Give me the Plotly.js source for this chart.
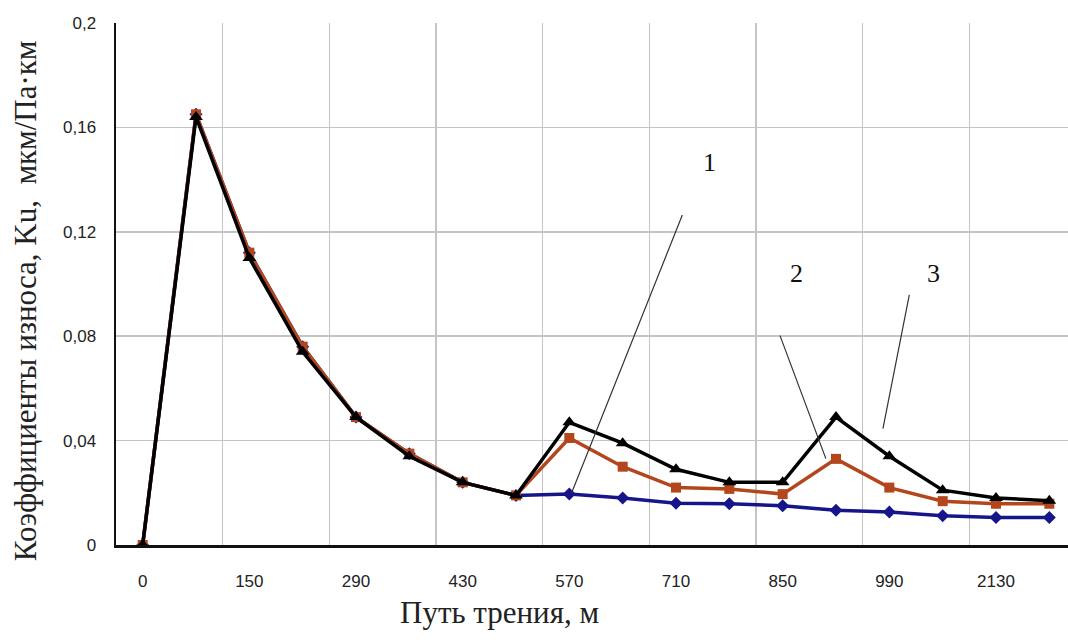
<!DOCTYPE html>
<html>
<head>
<meta charset="utf-8">
<script src="https://cdn.plot.ly/plotly-3.0.1.min.js"></script>
<style>html,body{margin:0;padding:0;background:#fff;overflow:hidden}</style>
</head>
<body>
<div id="chart" style="width:1068px;height:640px"></div>
<script>
// reading number along the friction path (18 readings, every other one labelled)
const pointNo = [0,1,2,3,4,5,6,7,8,9,10,11,12,13,14,15,16,17];
const tickLabels = ['0','150','290','430','570','710','850','990','2130'];

// series 1 (blue), 2 (red), 3 (black)
const series1 = [0,0.165,0.112,0.076,0.049,0.035,0.024,0.019,0.0195,0.018,0.016,0.0158,0.015,0.0133,0.0126,0.0112,0.0105,0.0105];
const series2 = [0,0.165,0.112,0.076,0.049,0.035,0.024,0.019,0.041,0.030,0.022,0.0215,0.0195,0.033,0.022,0.0168,0.0158,0.0158];
const series3 = [0,0.164,0.110,0.074,0.049,0.034,0.024,0.019,0.047,0.039,0.029,0.024,0.024,0.049,0.034,0.021,0.018,0.017];

const xTitle = 'Путь трения, м';
const yTitle = 'Коэффициенты износа, Ku,  мкм/Па·км';

const traces = [
  {x: pointNo, y: series1, mode: 'lines+markers', name: '1',
   line: {color: '#16168a', width: 3.5}, marker: {symbol: 'diamond', size: 10, color: '#16168a'}},
  {x: pointNo, y: series2, mode: 'lines+markers', name: '2',
   line: {color: '#b4461e', width: 3.5}, marker: {symbol: 'square', size: 10, color: '#b4461e'}},
  {x: pointNo, y: series3, mode: 'lines+markers', name: '3',
   line: {color: '#000000', width: 3.5}, marker: {symbol: 'triangle-up', size: 12, color: '#000000'}}
];

const labelFont = {family: 'Liberation Serif, serif', size: 26, color: '#111'};
const titleFont = {family: 'Liberation Serif, serif', size: 31, color: '#222'};
const lineStyle = {showarrow: true, arrowhead: 0, arrowwidth: 1.2, arrowcolor: '#333', text: '', axref: 'x', ayref: 'y'};

const layout = {
  width: 1068, height: 640,
  margin: {l: 116, r: 0, t: 23, b: 95},
  paper_bgcolor: '#fff', plot_bgcolor: '#fff',
  separators: ', ',
  showlegend: false,
  xaxis: {
    range: [-0.5, 17.35],
    tickmode: 'array',
    tickvals: tickLabels.map((_, i) => 2 * i),
    ticktext: tickLabels,
    ticks: '',
    showgrid: false,
    zeroline: false,
    showline: true, linecolor: '#111', linewidth: 2.5,
    tickfont: {family: 'Liberation Sans, Arial, sans-serif', size: 17, color: '#222'},
    ticklabelstandoff: 19,
    minor: {tickmode: 'array', tickvals: tickLabels.map((_, i) => 2 * i + 1.5), showgrid: true,
            gridcolor: '#c4c4c4', gridwidth: 1.6, ticks: ''}
  },
  yaxis: {
    range: [0, 0.2],
    tickmode: 'linear', tick0: 0, dtick: 0.04,
    ticks: '',
    showgrid: true, gridcolor: '#c4c4c4', gridwidth: 1.6,
    zeroline: false,
    showline: true, linecolor: '#111', linewidth: 2.5,
    tickfont: {family: 'Liberation Sans, Arial, sans-serif', size: 17, color: '#222'},
    ticklabelstandoff: 14
  },
  annotations: [
    Object.assign({x: 8.04, y: 0.0198, ax: 10.13, ay: 0.127}, lineStyle),
    Object.assign({x: 12.81, y: 0.0331, ax: 11.94, ay: 0.0808}, lineStyle),
    Object.assign({x: 13.88, y: 0.0446, ax: 14.38, ay: 0.0964}, lineStyle),
    {x: 10.63, y: 0.1467, text: '1', showarrow: false, font: labelFont, bgcolor: '#fff', borderpad: 8},
    {x: 12.26, y: 0.104, text: '2', showarrow: false, font: labelFont, bgcolor: '#fff', borderpad: 3},
    {x: 14.83, y: 0.104, text: '3', showarrow: false, font: labelFont, bgcolor: '#fff', borderpad: 3},
    {xref: 'paper', yref: 'paper', x: 0.403, y: -0.13, xanchor: 'center', yanchor: 'middle',
     text: xTitle, showarrow: false, font: titleFont},
    {xref: 'paper', yref: 'paper', x: -0.0956, y: 0.469, xanchor: 'center', yanchor: 'middle',
     text: yTitle, textangle: -90, showarrow: false, font: titleFont}
  ]
};

Plotly.newPlot('chart', traces, layout, {displayModeBar: false, staticPlot: true});
</script>
</body>
</html>
